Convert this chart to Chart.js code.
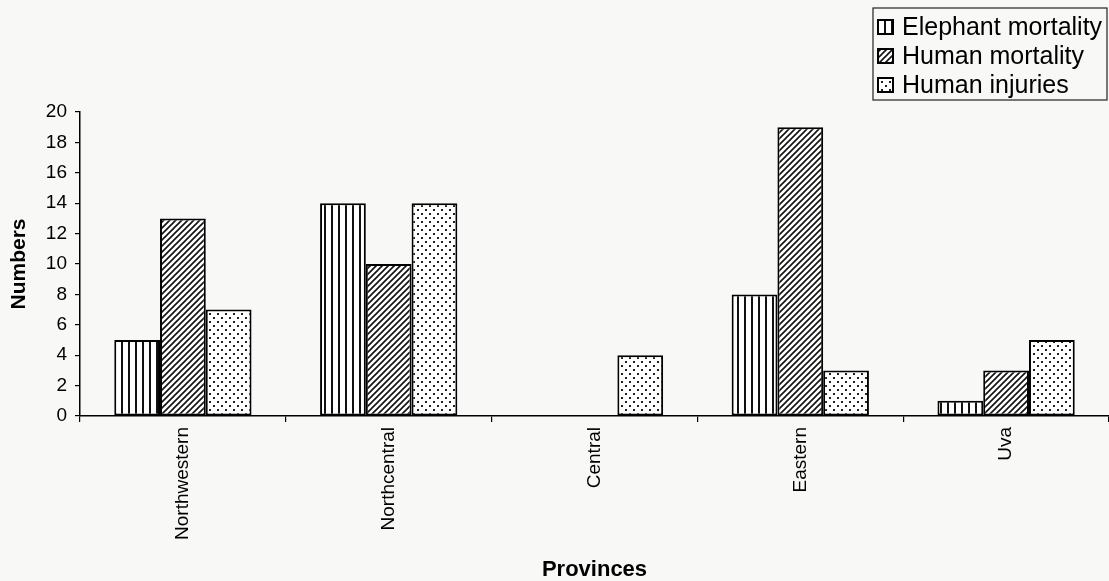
<!DOCTYPE html>
<html>
<head>
<meta charset="utf-8">
<script src="https://cdn.jsdelivr.net/npm/chart.js@4.4.1/dist/chart.umd.min.js"></script>
<style>
  html, body { margin: 0; padding: 0; background: #f8f8f6; }
  #wrap { width: 1109px; height: 581px; position: relative; }
</style>
</head>
<body>
<div id="wrap"><canvas id="chart"></canvas></div>
<script>
// data
const provinces = ['Northwestern', 'Northcentral', 'Central', 'Eastern', 'Uva'];
const elephantMortality = [5, 14, 0, 8, 1];
const humanMortality = [13, 10, 0, 19, 3];
const humanInjuries = [7, 14, 4, 3, 5];
const seriesNames = ['Elephant mortality', 'Human mortality', 'Human injuries'];
const yTicks = [0, 2, 4, 6, 8, 10, 12, 14, 16, 18, 20];

const FONT = 'Arial, "Liberation Sans", sans-serif';

// hatch fills, drawn on small tiles
function makePattern(kind) {
    const c = document.createElement('canvas');
    const ctx = c.getContext('2d');
    if (kind === 'vertical') {
        c.width = 7; c.height = 7;
        ctx.fillStyle = '#fff';
        ctx.fillRect(0, 0, 7, 7);
        ctx.fillStyle = '#111';
        ctx.fillRect(2, 0, 2, 7);
    } else if (kind === 'diagonal') {
        c.width = 6; c.height = 6;
        ctx.fillStyle = '#fff';
        ctx.fillRect(0, 0, 6, 6);
        ctx.strokeStyle = '#111';
        ctx.lineWidth = 1.6;
        ctx.beginPath();
        ctx.moveTo(-1, 7); ctx.lineTo(7, -1);
        ctx.moveTo(-4, 4); ctx.lineTo(4, -4);
        ctx.moveTo(2, 10); ctx.lineTo(10, 2);
        ctx.stroke();
    } else {
        c.width = 8; c.height = 8;
        ctx.fillStyle = '#fff';
        ctx.fillRect(0, 0, 8, 8);
        ctx.fillStyle = '#222';
        ctx.fillRect(1, 1, 2, 2);
        ctx.fillRect(5, 5, 2, 2);
    }
    return ctx.createPattern(c, 'repeat');
}

const fills = [makePattern('vertical'), makePattern('diagonal'), makePattern('dots')];
const values = [elephantMortality, humanMortality, humanInjuries];

const datasets = seriesNames.map((name, i) => ({
    label: name,
    data: values[i],
    backgroundColor: fills[i],
    borderColor: '#000',
    borderWidth: 2,
    borderSkipped: false,
    barPercentage: 1.0,
    categoryPercentage: 0.667
}));

// legend box in the top right corner
const boxLegend = {
    id: 'boxLegend',
    afterDraw(chart) {
        const ctx = chart.ctx;
        const x0 = 873, y0 = 8, w = 234, h = 92;
        ctx.save();
        ctx.fillStyle = '#f8f8f6';
        ctx.fillRect(x0, y0, w, h);
        ctx.strokeStyle = '#222';
        ctx.lineWidth = 1.2;
        ctx.strokeRect(x0, y0, w, h);
        ctx.font = '25px ' + FONT;
        ctx.textBaseline = 'middle';
        seriesNames.forEach((name, i) => {
            const cy = 27 + i * 29;
            ctx.fillStyle = fills[i];
            ctx.fillRect(878, cy - 7, 15, 14);
            ctx.strokeStyle = '#000';
            ctx.lineWidth = 2;
            ctx.strokeRect(878, cy - 7, 15, 14);
            ctx.fillStyle = '#000';
            ctx.fillText(name, 902, cy + 1);
        });
        ctx.restore();
    }
};

new Chart(document.getElementById('chart'), {
    type: 'bar',
    data: { labels: provinces, datasets },
    options: {
        responsive: true,
        maintainAspectRatio: false,
        animation: false,
        layout: { padding: { top: 112, left: 7, right: 0, bottom: 0 } },
        plugins: {
            legend: { display: false },
            tooltip: { enabled: false }
        },
        scales: {
            x: {
                grid: { display: true, drawOnChartArea: false, offset: true, color: '#000', tickLength: 6, lineWidth: 1.2 },
                border: { display: true, color: '#000', width: 1.5 },
                ticks: {
                    minRotation: 90, maxRotation: 90, padding: 5,
                    color: '#000',
                    font: { family: FONT, size: 19 }
                },
                title: {
                    display: true, text: 'Provinces', color: '#000',
                    font: { family: FONT, size: 22, weight: 'bold', lineHeight: 1 },
                    padding: { top: 0, bottom: 0 }
                },
                afterFit(scale) { scale.height = 165; }
            },
            y: {
                min: 0, max: 20,
                afterBuildTicks(scale) { scale.ticks = yTicks.map(v => ({ value: v })); },
                grid: { display: true, drawOnChartArea: false, color: '#000', tickLength: 5, lineWidth: 1.2 },
                border: { display: true, color: '#000', width: 1.5 },
                ticks: {
                    color: '#000', padding: 8,
                    font: { family: FONT, size: 19 }
                },
                title: {
                    display: true, text: 'Numbers', color: '#000',
                    font: { family: FONT, size: 21, weight: 'bold' },
                    padding: { top: 0, bottom: 4 }
                },
                afterFit(scale) { scale.width = 73; }
            }
        }
    },
    plugins: [boxLegend]
});
</script>
</body>
</html>
